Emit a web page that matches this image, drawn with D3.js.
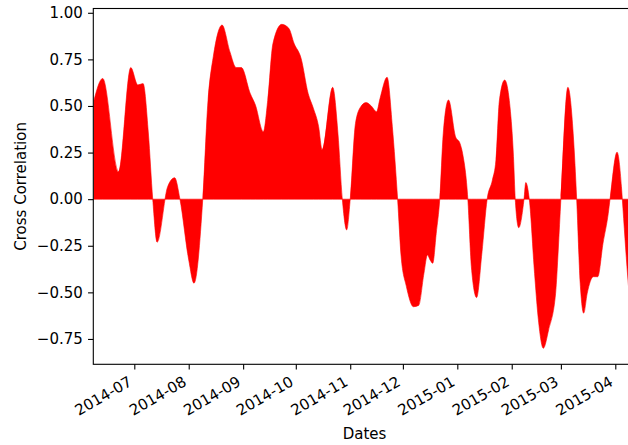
<!DOCTYPE html>
<html>
<head>
<meta charset="utf-8">
<script src="https://cdn.jsdelivr.net/npm/d3@7"></script>
<style>
  html, body { margin: 0; padding: 0; background: #fff; }
  svg { display: block; }
  text { font-family: "DejaVu Sans", sans-serif; fill: #000; }
</style>
</head>
<body>
<svg id="chart" width="628" height="445"></svg>
<script>
// ---- data ----
const dates = [
  "2014-06-08","2014-06-13","2014-06-22","2014-06-29","2014-07-03","2014-07-06","2014-07-09","2014-07-11T12:00",
  "2014-07-14","2014-07-20","2014-07-24","2014-07-27","2014-08-01","2014-08-04","2014-08-09","2014-08-12",
  "2014-08-15","2014-08-20","2014-08-24T12:00","2014-08-28","2014-08-31","2014-09-05","2014-09-08","2014-09-12T12:00",
  "2014-09-15","2014-09-18","2014-09-23","2014-09-27","2014-09-30","2014-10-04","2014-10-08","2014-10-11",
  "2014-10-14","2014-10-16","2014-10-22","2014-10-25","2014-10-27T12:00","2014-10-30","2014-11-01","2014-11-04",
  "2014-11-07","2014-11-10","2014-11-13","2014-11-16","2014-11-18","2014-11-22","2014-11-25","2014-11-28",
  "2014-11-30","2014-12-03","2014-12-07","2014-12-10","2014-12-13","2014-12-15","2014-12-16T12:00","2014-12-18",
  "2014-12-20","2014-12-22","2014-12-24","2014-12-27","2014-12-31","2015-01-02T12:00","2015-01-04","2015-01-07",
  "2015-01-09","2015-01-12","2015-01-15","2015-01-18","2015-01-21","2015-01-23","2015-01-25","2015-01-28",
  "2015-01-31","2015-02-02","2015-02-03","2015-02-05","2015-02-08","2015-02-09","2015-02-11","2015-02-14",
  "2015-02-16","2015-02-19","2015-02-22","2015-02-26","2015-02-27T12:00","2015-03-01","2015-03-05","2015-03-08",
  "2015-03-10","2015-03-12","2015-03-14","2015-03-16","2015-03-19T12:00","2015-03-22","2015-03-25","2015-03-28",
  "2015-03-29","2015-04-02","2015-04-04T12:00","2015-04-05","2015-04-08","2015-04-09"
];
const correlation = [
  0.53, 0.648, 0.148, 0.706, 0.613, 0.62, 0.355, 0,
  -0.231, 0.067, 0.115, 0, -0.326, -0.451, 0, 0.53,
  0.765, 0.934, 0.79, 0.706, 0.706, 0.568, 0.505, 0.362,
  0.53, 0.836, 0.938, 0.917, 0.836, 0.756, 0.568, 0.488,
  0.389, 0.264, 0.600, 0.354, 0, -0.165, 0, 0.407,
  0.496, 0.518, 0.5, 0.469, 0.541, 0.654, 0.389, 0,
  -0.308, -0.469, -0.577, -0.57, -0.398, -0.299, -0.326, -0.344,
  -0.183, 0, 0.354, 0.532, 0.335, 0.3, 0.246, 0,
  -0.362, -0.528, -0.29, 0, 0.103, 0.21, 0.532, 0.639,
  0.496, 0.228, 0, -0.153, 0, 0.089, 0, -0.398,
  -0.63, -0.8, -0.702, -0.505, -0.273, 0, 0.6, 0.354,
  0, -0.451, -0.612, -0.505, -0.416, -0.416, -0.237, -0.076,
  0, 0.252, 0.067, 0, -0.407, -0.52
];
const yTicks = [-0.75, -0.5, -0.25, 0, 0.25, 0.5, 0.75, 1.0];
const xLabel = "Dates";
const yLabel = "Cross Correlation";

(function () {
  // ---- layout ----
  const mL = 93.3, mR = 635.7, mT = 8.5, mB = 364.3;
  const fontPx = 15, tickLen = 5.25, tickPad = 5.25, lw = 1.1;

  const parse = s => new Date(s.length > 10 ? s + ":00Z" : s + "T00:00:00Z");
  const data = dates.map((d, i) => ({ date: parse(d), v: correlation[i] }));

  const svg = d3.select("#chart");

  // time scale calibrated on two month ticks, then extended to the axes box
  const calib = d3.scaleUtc()
    .domain([parse("2014-07-01"), parse("2015-04-01")])
    .range([134.3, 615.3]);
  const x = d3.scaleUtc()
    .domain([calib.invert(mL), calib.invert(mR)])
    .range([mL, mR]);
  const y = d3.scaleLinear().domain([-0.886, 1.023]).range([mB, mT]);

  svg.append("defs").append("clipPath").attr("id", "clip")
    .append("rect").attr("x", mL).attr("y", mT)
    .attr("width", mR - mL).attr("height", mB - mT);

  const area = d3.area()
    .x(d => x(d.date))
    .y0(y(0))
    .y1(d => y(d.v))
    .curve(d3.curveMonotoneX);

  svg.append("path")
    .datum(data)
    .attr("clip-path", "url(#clip)")
    .attr("d", area)
    .attr("fill", "#ff0000")
    .attr("stroke", "#ff0000")
    .attr("stroke-width", 0.6);

  // y axis
  const yAxis = d3.axisLeft(y).tickValues(yTicks).tickFormat(d3.format(".2f"))
    .tickSize(tickLen).tickPadding(tickPad);
  const gy = svg.append("g").attr("transform", `translate(${mL},0)`).call(yAxis);
  gy.select(".domain").remove();
  gy.selectAll(".tick line").attr("stroke", "#000").attr("stroke-width", lw);
  gy.selectAll(".tick text").attr("font-size", fontPx).attr("fill", "#000");

  // x axis
  const xAxis = d3.axisBottom(x).ticks(d3.utcMonth.every(1)).tickFormat(d3.utcFormat("%Y-%m"))
    .tickSize(tickLen).tickPadding(tickPad);
  const gx = svg.append("g").attr("transform", `translate(0,${mB})`).call(xAxis);
  gx.select(".domain").remove();
  gx.selectAll(".tick line").attr("stroke", "#000").attr("stroke-width", lw);
  gx.selectAll(".tick text")
    .attr("font-size", fontPx).attr("fill", "#000")
    .attr("text-anchor", "end")
    .attr("dy", null)
    .attr("y", null)
    .attr("transform", "translate(-1.8,20.4) rotate(-30)");

  // spines
  svg.append("rect")
    .attr("x", mL).attr("y", mT)
    .attr("width", mR - mL).attr("height", mB - mT)
    .attr("fill", "none").attr("stroke", "#000").attr("stroke-width", lw);

  // axis labels
  svg.append("text")
    .attr("x", (mL + mR) / 2).attr("y", 439)
    .attr("text-anchor", "middle").attr("font-size", fontPx)
    .text(xLabel);

  svg.append("text")
    .attr("transform", `translate(26,${(mT + mB) / 2}) rotate(-90)`)
    .attr("text-anchor", "middle").attr("font-size", fontPx)
    .text(yLabel);
})();
</script>
</body>
</html>
